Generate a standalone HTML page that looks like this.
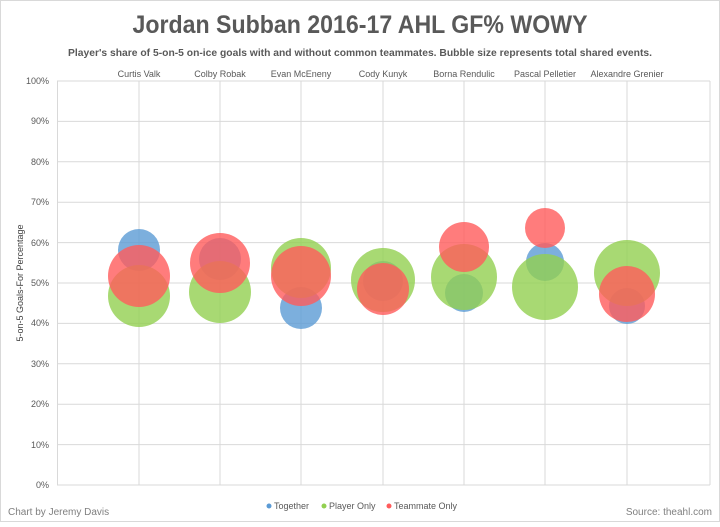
<!DOCTYPE html>
<html><head><style>
body{margin:0;background:#fff;}
svg text{font-family:"Liberation Sans",sans-serif;}
</style></head><body>
<svg width="720" height="522" xmlns="http://www.w3.org/2000/svg">
<rect x="0.5" y="0.5" width="719" height="521" fill="#fff" stroke="#d9d9d9"/>
<text x="360" y="33" text-anchor="middle" font-size="25" font-weight="bold" fill="#595959" textLength="455" lengthAdjust="spacingAndGlyphs">Jordan Subban 2016-17 AHL GF% WOWY</text>
<text x="360" y="56" text-anchor="middle" font-size="10.5" font-weight="bold" fill="#595959" textLength="584" lengthAdjust="spacingAndGlyphs">Player's share of 5-on-5 on-ice goals with and without common teammates. Bubble size represents total shared events.</text>
<g stroke="#d9d9d9" stroke-width="1">
<line x1="57" y1="81" x2="710" y2="81"/><line x1="57" y1="121.4" x2="710" y2="121.4"/><line x1="57" y1="161.8" x2="710" y2="161.8"/><line x1="57" y1="202.2" x2="710" y2="202.2"/><line x1="57" y1="242.6" x2="710" y2="242.6"/><line x1="57" y1="283" x2="710" y2="283"/><line x1="57" y1="323.4" x2="710" y2="323.4"/><line x1="57" y1="363.8" x2="710" y2="363.8"/><line x1="57" y1="404.2" x2="710" y2="404.2"/><line x1="57" y1="444.6" x2="710" y2="444.6"/><line x1="57" y1="485" x2="710" y2="485"/>
<line x1="57.5" y1="81" x2="57.5" y2="485"/><line x1="139" y1="81" x2="139" y2="485"/><line x1="220" y1="81" x2="220" y2="485"/><line x1="301" y1="81" x2="301" y2="485"/><line x1="383" y1="81" x2="383" y2="485"/><line x1="464" y1="81" x2="464" y2="485"/><line x1="545" y1="81" x2="545" y2="485"/><line x1="627" y1="81" x2="627" y2="485"/><line x1="710" y1="81" x2="710" y2="485"/>
</g>
<g font-size="9" fill="#595959" text-anchor="end">
<text x="49" y="84">100%</text><text x="49" y="124">90%</text><text x="49" y="165">80%</text><text x="49" y="205">70%</text><text x="49" y="246">60%</text><text x="49" y="286">50%</text><text x="49" y="326">40%</text><text x="49" y="367">30%</text><text x="49" y="407">20%</text><text x="49" y="448">10%</text><text x="49" y="488">0%</text>
</g>
<g font-size="9" fill="#595959" text-anchor="middle">
<text x="139" y="77">Curtis Valk</text><text x="220" y="77">Colby Robak</text><text x="301" y="77">Evan McEneny</text><text x="383" y="77">Cody Kunyk</text><text x="464" y="77">Borna Rendulic</text><text x="545" y="77">Pascal Pelletier</text><text x="627" y="77">Alexandre Grenier</text>
</g>
<text transform="translate(23,283) rotate(-90)" text-anchor="middle" font-size="9" fill="#404040">5-on-5 Goals-For Percentage</text>
<g fill-opacity="0.8">
<circle cx="139" cy="250" r="21" fill="#5b9bd5"/><circle cx="139" cy="296" r="31" fill="#92d050"/><circle cx="139" cy="276" r="31" fill="#ff5b5b"/>
<circle cx="220" cy="259" r="21" fill="#5b9bd5"/><circle cx="220" cy="292" r="31" fill="#92d050"/><circle cx="220" cy="263" r="30" fill="#ff5b5b"/>
<circle cx="301" cy="308" r="21" fill="#5b9bd5"/><circle cx="301" cy="268" r="30" fill="#92d050"/><circle cx="301" cy="276" r="30" fill="#ff5b5b"/>
<circle cx="383" cy="281" r="20" fill="#5b9bd5"/><circle cx="383" cy="280" r="32" fill="#92d050"/><circle cx="383" cy="289" r="26" fill="#ff5b5b"/>
<circle cx="464" cy="293" r="19" fill="#5b9bd5"/><circle cx="464" cy="277" r="33" fill="#92d050"/><circle cx="464" cy="247" r="25" fill="#ff5b5b"/>
<circle cx="545" cy="262" r="19" fill="#5b9bd5"/><circle cx="545" cy="287" r="33" fill="#92d050"/><circle cx="545" cy="228" r="20" fill="#ff5b5b"/>
<circle cx="627" cy="306" r="18" fill="#5b9bd5"/><circle cx="627" cy="273" r="33" fill="#92d050"/><circle cx="627" cy="294" r="28" fill="#ff5b5b"/>
</g>
<g font-size="9" fill="#595959">
<circle cx="269" cy="506" r="2.5" fill="#5b9bd5"/><text x="274" y="509">Together</text>
<circle cx="324" cy="506" r="2.5" fill="#92d050"/><text x="329" y="509">Player Only</text>
<circle cx="389" cy="506" r="2.5" fill="#ff5b5b"/><text x="394" y="509">Teammate Only</text>
</g>
<text x="8" y="515" font-size="10" fill="#7f7f7f">Chart by Jeremy Davis</text>
<text x="712" y="515" font-size="10" fill="#7f7f7f" text-anchor="end">Source: theahl.com</text>
</svg>
</body></html>
